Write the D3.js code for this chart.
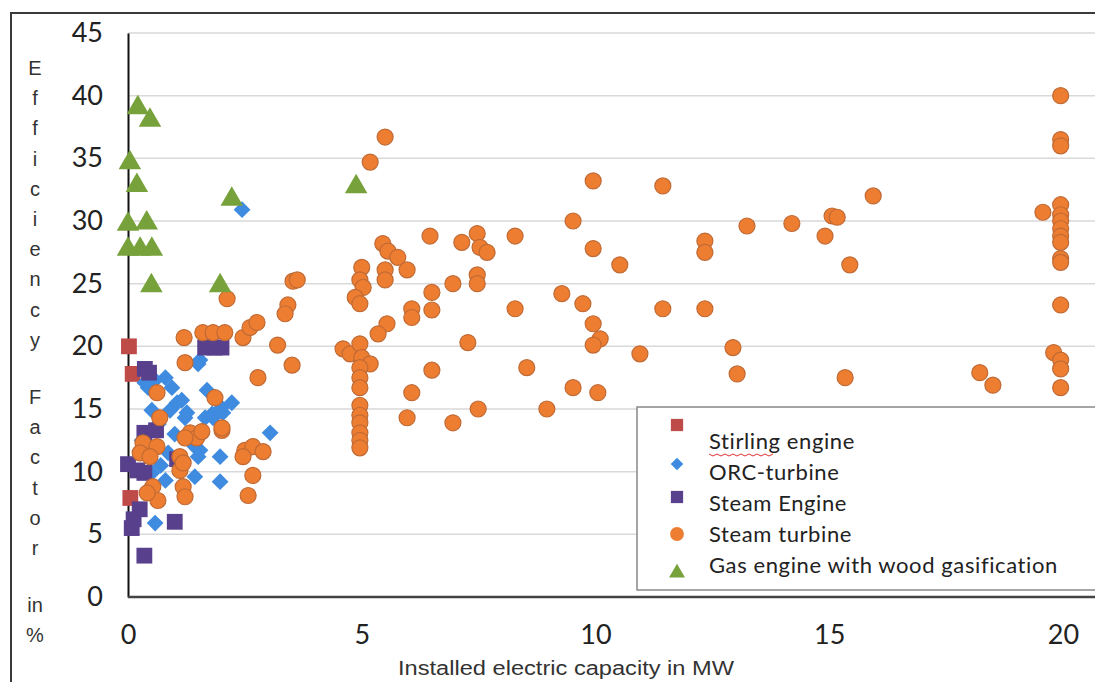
<!DOCTYPE html>
<meta charset="utf-8">
<style>
  body { margin: 0; background: #fff; }
  svg { display: block; }
</style>
<svg width="1095" height="682"></svg>
<script src="https://cdn.jsdelivr.net/npm/d3@7"></script>
<script>
// values: [capacity MW, efficiency %]
var stirling = [[0.02, 20.0], [0.1, 17.8], [0.05, 7.9]];

var orc = [
  [0.36, 17.1], [0.58, 17.3], [0.8, 17.5], [0.94, 16.7], [0.43, 16.7], [0.51, 14.9],
  [0.9, 14.9], [1.15, 15.7], [1.22, 14.3], [1.26, 14.7], [1.05, 15.5], [1.5, 18.6],
  [1.54, 18.9], [1.69, 16.5], [1.8, 14.6], [1.65, 14.3], [1.82, 14.3], [2.0, 15.1],
  [2.03, 14.7], [2.22, 15.5], [1.43, 12.0], [1.54, 11.7], [1.5, 11.2], [1.97, 11.2],
  [1.43, 9.6], [1.97, 9.2], [0.51, 9.9], [0.8, 9.3], [0.86, 11.5], [0.58, 5.9],
  [3.04, 13.1], [2.44, 30.9], [0.65, 13.8], [0.7, 10.5], [1.0, 13.0], [0.3, 12.5]
];

var steamEngine = [
  [0.36, 18.2], [0.45, 17.9], [1.65, 19.9], [1.85, 19.9], [2.0, 19.9], [0.35, 13.1],
  [0.6, 13.3], [0.0, 10.6], [0.2, 10.1], [0.35, 9.9], [1.05, 11.0], [0.25, 7.0],
  [0.12, 6.2], [0.08, 5.5], [1.0, 6.0], [0.35, 3.3]
];

var steamTurbine = [
  [1.2, 20.7], [1.6, 21.1], [1.82, 21.1], [2.07, 21.1], [2.46, 20.7], [2.61, 21.5],
  [2.76, 21.9], [3.2, 20.1], [1.22, 18.7], [2.12, 23.8], [2.78, 17.5], [3.51, 18.5],
  [0.62, 16.3], [0.68, 14.3], [1.86, 15.9], [2.01, 13.3], [1.33, 13.1], [1.47, 12.7],
  [1.22, 12.7], [0.32, 12.3], [0.62, 12.0], [0.26, 11.5], [0.47, 11.2], [1.11, 11.2],
  [1.11, 10.1], [1.18, 10.7], [1.18, 8.8], [1.22, 8.0], [0.53, 8.8], [0.64, 7.7],
  [0.41, 8.3], [2.5, 11.7], [2.67, 12.0], [2.89, 11.6], [2.46, 11.2], [2.67, 9.7],
  [2.57, 8.1], [1.58, 13.2], [2.01, 13.5],
  [3.53, 25.2], [3.62, 25.3], [3.42, 23.3], [3.36, 22.6],
  [5.5, 36.7], [5.18, 34.7], [5.45, 28.2], [5.56, 27.6], [5.77, 27.1], [5.97, 26.1],
  [5.5, 26.1], [5.5, 25.3], [5.0, 26.3], [4.96, 25.3], [5.03, 24.7], [4.86, 23.9],
  [4.96, 23.4], [6.5, 24.3], [6.5, 22.9], [6.07, 23.0], [6.07, 22.3], [6.95, 25.0],
  [7.47, 25.7], [7.47, 25.0], [5.54, 21.8], [5.35, 21.0], [4.6, 19.8], [4.75, 19.4],
  [4.96, 20.2], [5.0, 19.1], [5.18, 18.6], [4.96, 18.3], [4.96, 17.5], [4.96, 16.7],
  [4.96, 15.3], [4.96, 14.5], [4.96, 13.9], [4.96, 13.1], [4.96, 12.5], [4.96, 11.9],
  [6.5, 18.1], [6.07, 16.3], [5.97, 14.3], [6.95, 13.9], [7.49, 15.0], [7.27, 20.3],
  [6.46, 28.8], [7.14, 28.3], [7.47, 29.0], [7.53, 27.9], [7.68, 27.5], [8.28, 28.8],
  [8.28, 23.0], [8.53, 18.3], [8.96, 15.0], [9.28, 24.2], [9.52, 30.0], [9.52, 16.7],
  [9.73, 23.4], [9.95, 33.2], [9.95, 27.8], [9.95, 21.8], [10.1, 20.6], [9.95, 20.1],
  [10.05, 16.3], [10.52, 26.5], [10.95, 19.4], [11.44, 32.8], [11.44, 23.0], [12.34, 28.4],
  [12.34, 27.5], [12.34, 23.0], [12.94, 19.9], [13.03, 17.8], [13.24, 29.6], [14.2, 29.8],
  [14.91, 28.8], [15.06, 30.4], [15.17, 30.3], [15.44, 26.5], [15.34, 17.5], [15.94, 32.0],
  [18.22, 17.9], [18.5, 16.9], [19.57, 30.7],
  [19.95, 40.0], [19.95, 36.5], [19.95, 36.0], [19.95, 31.3], [19.95, 30.5], [19.95, 30.0],
  [19.95, 29.4], [19.95, 28.8], [19.95, 28.3], [19.95, 27.0], [19.95, 26.7], [19.95, 23.3],
  [19.8, 19.5], [19.95, 18.9], [19.95, 18.2], [19.95, 16.7]
];

var gasEngine = [
  [0.21, 39.2], [0.47, 38.2], [0.04, 34.8], [0.19, 33.0], [0.0, 29.9], [0.4, 30.0],
  [0.0, 27.9], [0.26, 27.9], [0.51, 27.9], [0.5, 25.0], [2.22, 31.9], [1.97, 25.0],
  [4.88, 32.9]
];

var seriesNames = ["Stirling engine", "ORC-turbine", "Steam Engine", "Steam turbine", "Gas engine with wood gasification"];
var yTicks = [0, 5, 10, 15, 20, 25, 30, 35, 40, 45];
var xTicks = [0, 5, 10, 15, 20];
var yTitleWords = ["Efficiency", "Factor", "in", "%"];

var svg = d3.select("svg");
var W = 1095, H = 682;

var x = d3.scaleLinear().domain([0, 20]).range([128, 1063]);
var y = d3.scaleLinear().domain([0, 45]).range([597, 33]);

// outer frame
svg.append("path")
  .attr("d", "M11,682 V13 H1095")
  .attr("fill", "none").attr("stroke", "#3a3a3a").attr("stroke-width", 2);

// gridlines
svg.append("g").selectAll("line").data(yTicks.slice(1)).join("line")
  .attr("x1", x(0)).attr("x2", W)
  .attr("y1", d => y(d)).attr("y2", d => y(d))
  .attr("stroke", "#d9d9d9").attr("stroke-width", 1.5);

// axes
var yAxis = d3.axisLeft(y).tickValues(yTicks).tickSize(0).tickPadding(25);
var gy = svg.append("g").attr("transform", "translate(" + x(0) + ",0)").call(yAxis);
gy.select(".domain").attr("stroke", "#111").attr("stroke-width", 2);
gy.selectAll("text").attr("font-family", "Lato").attr("font-size", 27).attr("fill", "#222");

var xAxis = d3.axisBottom(x).tickValues(xTicks).tickSize(0).tickPadding(28);
var gx = svg.append("g").attr("transform", "translate(0," + y(0) + ")").call(xAxis);
gx.select(".domain").remove();
gx.selectAll("text").attr("font-family", "Lato").attr("font-size", 27).attr("fill", "#222");
svg.append("line").attr("x1", x(0)).attr("x2", W).attr("y1", y(0)).attr("y2", y(0))
  .attr("stroke", "#444").attr("stroke-width", 2.5);

// axis titles
svg.append("text").attr("x", 566).attr("y", 675)
  .attr("text-anchor", "middle").attr("font-family", "Liberation Sans")
  .attr("font-size", 20).attr("fill", "#333")
  .attr("textLength", 336).attr("lengthAdjust", "spacingAndGlyphs")
  .text("Installed electric capacity in MW");

var letters = [];
var ly = 68;
yTitleWords.forEach(function(w, wi) {
  if (w.length <= 2) {
    letters.push({t: w, y: wi === 2 ? 605 : 635});
  } else {
    w.split("").forEach(function(c) { letters.push({t: c, y: ly}); ly += 30.2; });
    ly = 397;
  }
});
svg.append("g").selectAll("text").data(letters).join("text")
  .attr("x", 35).attr("y", d => d.y).attr("dy", "0.35em")
  .attr("text-anchor", "middle").attr("font-family", "Liberation Sans")
  .attr("font-size", 20).attr("fill", "#333")
  .text(d => d.t);

// markers
var colors = ["#be4b48", "#3f8be0", "#58408d", "#ed7d31", "#77a23b"];
var sq = d3.symbol().type(d3.symbolSquare).size(250);
var dia = d3.symbol().type(d3.symbolDiamond2).size(180);
var tri = d3.symbol().type(d3.symbolTriangle).size(220);

var plot = svg.append("g");
plot.selectAll(".st").data(stirling).join("path")
  .attr("transform", d => "translate(" + x(d[0]) + "," + y(d[1]) + ")")
  .attr("d", sq).attr("fill", colors[0]);
plot.selectAll(".orc").data(orc).join("path")
  .attr("transform", d => "translate(" + x(d[0]) + "," + y(d[1]) + ")")
  .attr("d", dia).attr("fill", colors[1]);
plot.selectAll(".se").data(steamEngine).join("path")
  .attr("transform", d => "translate(" + x(d[0]) + "," + y(d[1]) + ")")
  .attr("d", sq).attr("fill", colors[2]);
plot.selectAll(".stt").data(steamTurbine).join("circle")
  .attr("cx", d => x(d[0])).attr("cy", d => y(d[1])).attr("r", 8)
  .attr("fill", colors[3]).attr("stroke", "#c06a35").attr("stroke-width", 1.2);
plot.selectAll(".gas").data(gasEngine).join("path")
  .attr("transform", d => "translate(" + x(d[0]) + "," + (y(d[1]) + 2) + ")")
  .attr("d", tri).attr("fill", colors[4]);

// legend
var lg = svg.append("g");
lg.append("rect").attr("x", 637).attr("y", 407).attr("width", 470).attr("height", 183)
  .attr("fill", "#fff").attr("stroke", "#888").attr("stroke-width", 1.5);
var markY = [425, 464, 497, 534, 573];
var textY = [441, 472, 503, 534, 565];
var legSym = [d3.symbol().type(d3.symbolSquare).size(150), d3.symbol().type(d3.symbolDiamond2).size(100),
  d3.symbol().type(d3.symbolSquare).size(150), d3.symbol().type(d3.symbolCircle).size(150),
  d3.symbol().type(d3.symbolTriangle).size(110)];
lg.selectAll("path").data(seriesNames).join("path")
  .attr("transform", (d, i) => "translate(677," + markY[i] + ")")
  .attr("d", (d, i) => legSym[i]()).attr("fill", (d, i) => colors[i]);
lg.selectAll("text").data(seriesNames).join("text")
  .attr("x", 709).attr("y", (d, i) => textY[i]).attr("dy", "0.35em")
  .attr("font-family", "Lato").attr("font-size", 22).attr("letter-spacing", 0.6)
  .attr("fill", "#222")
  .text(d => d);
// spell-check squiggle under "Stirling"
var sqz = d3.range(0, 17).map(i => [709 + i * 4, 454 + (i % 2 ? 2 : 0)]);
lg.append("path").attr("d", d3.line()(sqz)).attr("fill", "none")
  .attr("stroke", "#d33").attr("stroke-width", 1);
</script>
